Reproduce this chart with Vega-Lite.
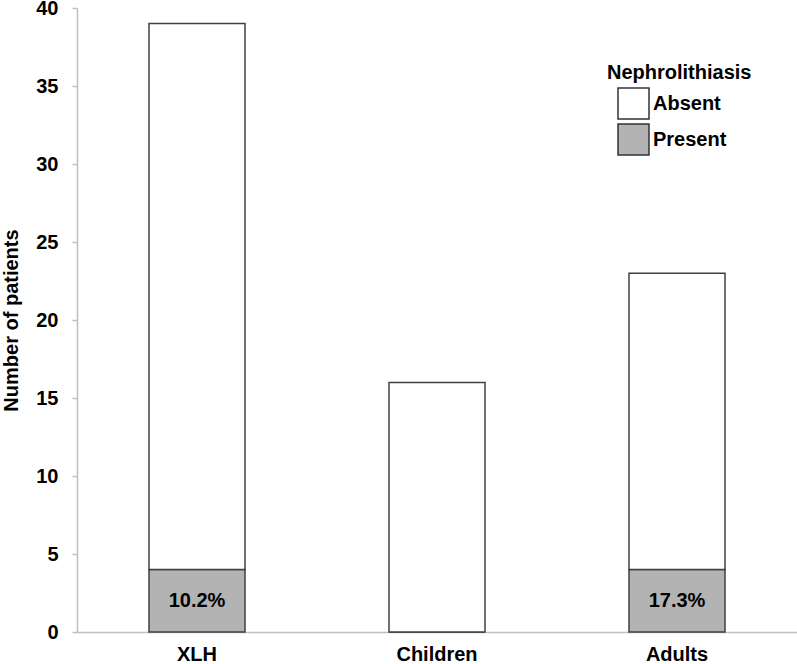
{
  "$schema": "https://vega.github.io/schema/vega-lite/v6.json",
  "autosize": {"type": "none"},
  "padding": {"left": 77, "top": 8, "right": 0, "bottom": 32},
  "width": 720,
  "height": 624,
  "background": "white",
  "config": {
    "view": {"stroke": null},
    "font": "Liberation Sans",
    "axis": {"labelFont": "Liberation Sans", "titleFont": "Liberation Sans"},
    "legend": {"labelFont": "Liberation Sans", "titleFont": "Liberation Sans"}
  },
  "data": {
    "values": [
      {"group": "XLH", "status": "Present", "count": 4, "label": "10.2%"},
      {"group": "XLH", "status": "Absent", "count": 35, "label": ""},
      {"group": "Children", "status": "Present", "count": 0, "label": ""},
      {"group": "Children", "status": "Absent", "count": 16, "label": ""},
      {"group": "Adults", "status": "Present", "count": 4, "label": "17.3%"},
      {"group": "Adults", "status": "Absent", "count": 19, "label": ""}
    ]
  },
  "layer": [
    {
      "mark": {"type": "bar", "stroke": "#404040", "strokeWidth": 1.5},
      "encoding": {
        "x": {
          "field": "group", "type": "nominal", "sort": ["XLH", "Children", "Adults"],
          "scale": {"paddingInner": 0.6, "paddingOuter": 0.3},
          "axis": {
            "title": null, "labelAngle": 0, "ticks": false, "labelPadding": 12,
            "labelFontSize": 20, "labelFontWeight": "bold", "labelColor": "black",
            "domainColor": "#bfbfbf", "domainWidth": 1.5
          }
        },
        "y": {
          "field": "count", "type": "quantitative", "stack": "zero",
          "scale": {"domain": [0, 40], "nice": false},
          "axis": {
            "title": "Number of patients", "values": [0, 5, 10, 15, 20, 25, 30, 35, 40],
            "grid": false, "tickSize": 5, "tickColor": "#bfbfbf", "tickWidth": 1.5,
            "domainColor": "#bfbfbf", "domainWidth": 1.5,
            "labelPadding": 14, "labelFontSize": 20, "labelFontWeight": "bold", "labelColor": "black",
            "titleFontSize": 20, "titleFontWeight": "bold", "titleColor": "black", "titlePadding": 14
          }
        },
        "color": {
          "field": "status", "type": "nominal",
          "scale": {"domain": ["Absent", "Present"], "range": ["#ffffff", "#b3b3b3"]},
          "legend": {
            "title": "Nephrolithiasis", "orient": "none", "legendX": 530, "legendY": 55,
            "padding": 0, "symbolType": "square", "symbolSize": 961,
            "symbolStrokeColor": "#333333", "symbolStrokeWidth": 1.5, "symbolOffset": 10,
            "rowPadding": -1, "labelOffset": 3, "titlePadding": 4,
            "titleFontSize": 20, "titleFontWeight": "bold", "titleColor": "black",
            "labelFontSize": 20, "labelFontWeight": "bold", "labelColor": "black"
          }
        },
        "order": {"field": "status", "sort": "descending"}
      }
    },
    {
      "transform": [
        {"filter": "datum.label != ''"},
        {"calculate": "datum.count / 2", "as": "mid"}
      ],
      "mark": {"type": "text", "fontSize": 20, "fontWeight": "bold", "color": "black", "baseline": "middle"},
      "encoding": {
        "x": {"field": "group", "type": "nominal", "sort": ["XLH", "Children", "Adults"]},
        "y": {"field": "mid", "type": "quantitative"},
        "text": {"field": "label"}
      }
    }
  ]
}
